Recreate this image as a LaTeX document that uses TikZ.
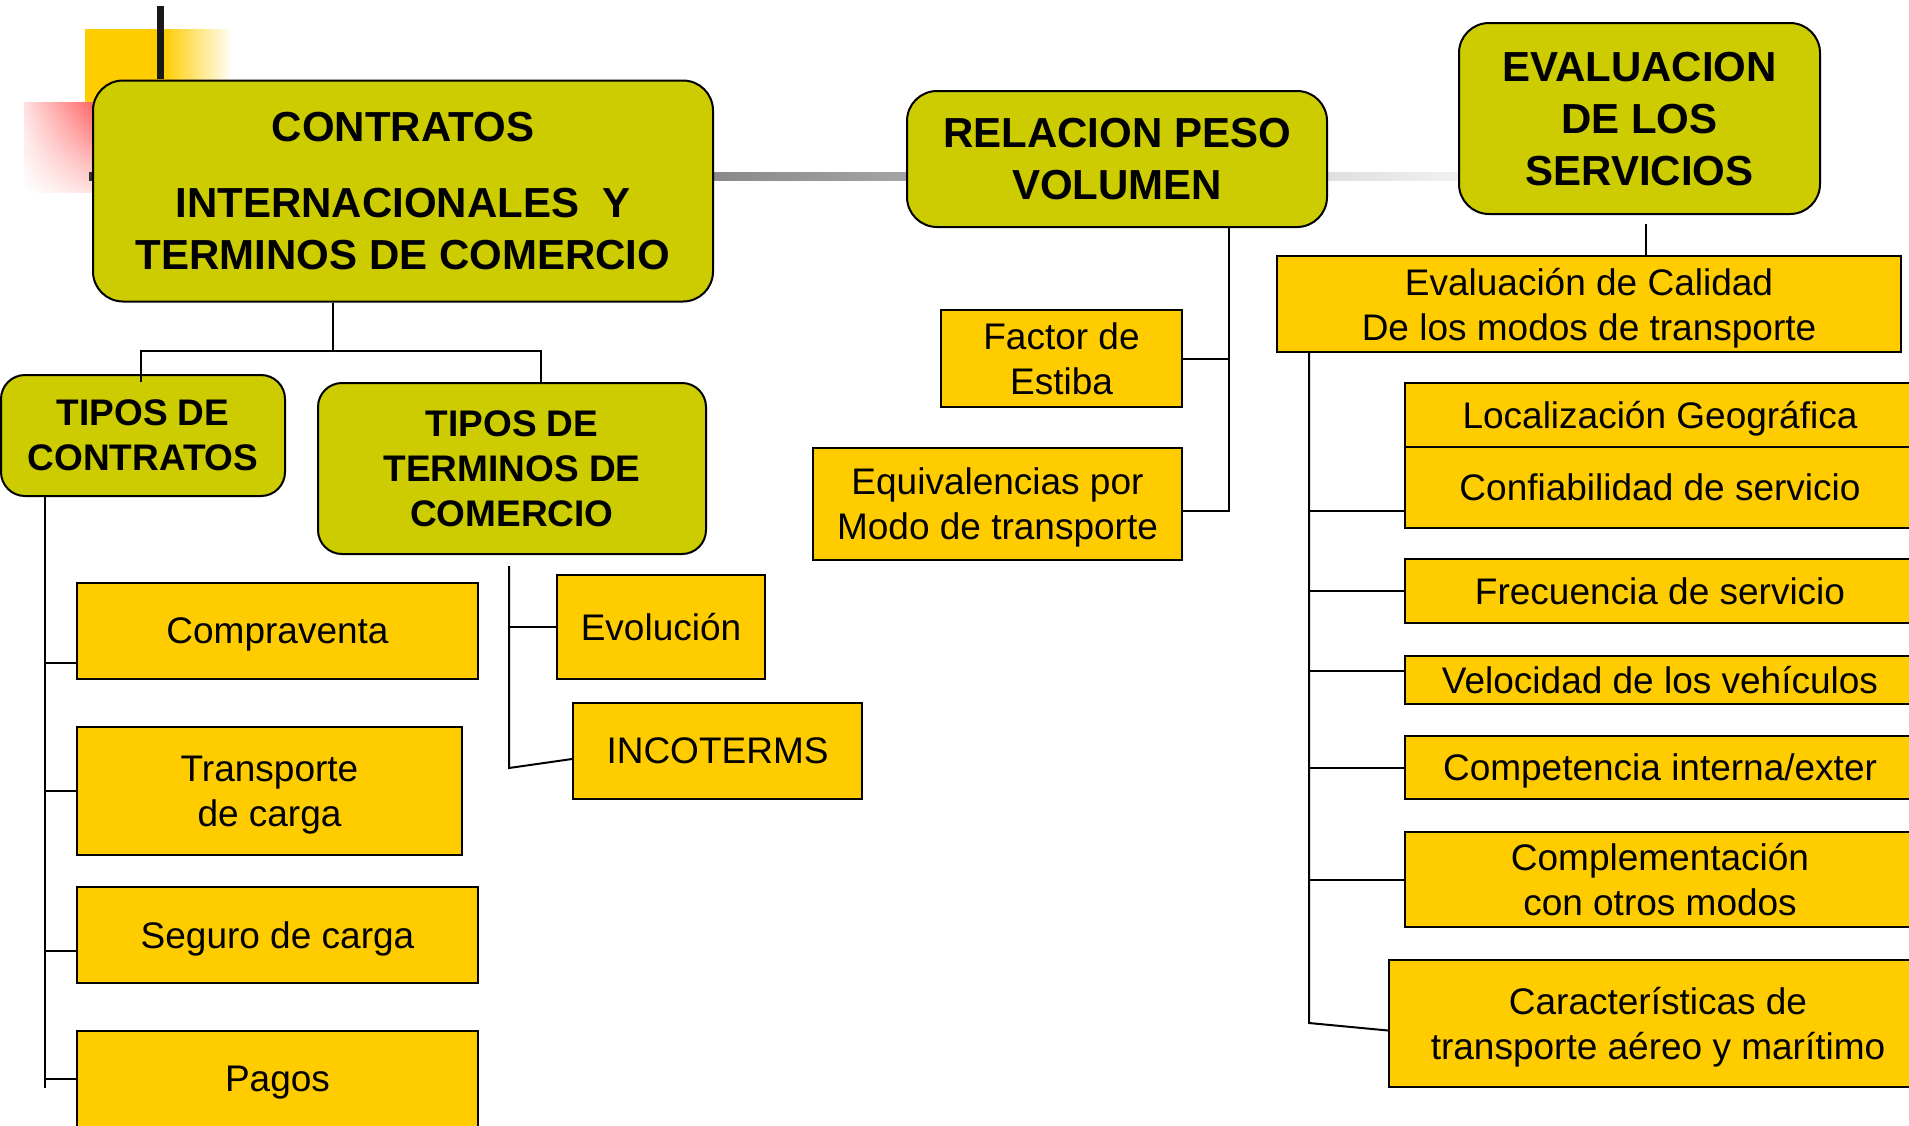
\documentclass[tikz,border=0pt]{standalone}
\usepackage{fontspec}
\setmainfont{Liberation Sans}
\usetikzlibrary{shadings}
\definecolor{myolive}{HTML}{CCCC00}
\definecolor{myyellow}{HTML}{FFCC00}
\newcommand{\titlefont}{\fontsize{42}{52}\selectfont\bfseries}
\newcommand{\subfont}{\fontsize{37}{45}\selectfont\bfseries}
\newcommand{\itemfont}{\fontsize{37}{45}\selectfont}

\begin{document}
\begin{tikzpicture}[x=1pt,y=-1pt]
\tikzset{titlebox/.style={draw=black, line width=2pt, fill=myolive, rounded corners=30pt, align=center, inner sep=0pt, text depth=0pt, font=\titlefont}}
\tikzset{subbox/.style={titlebox, rounded corners=24pt, font=\subfont}}
\tikzset{itembox/.style={draw=black, line width=2pt, fill=myyellow, align=center, inner sep=0pt, text depth=0pt, font=\itemfont}}
\tikzset{link/.style={draw=black, line width=2pt}}
\useasboundingbox (0,0) rectangle (1909,1125);
\fill[myyellow] (85,29) rectangle (163,175);
\shade[left color=myyellow, right color=white] (163,29) rectangle (233,175);
\shade[upper right=red!75, upper left=red!12, lower right=red!15, lower left=white] (24,102) rectangle (114,192);
\fill[black!90] (157,6) rectangle (164,79);
\shade[left color=black!80, right color=white] (89,172) rectangle (1560,180);
\node[titlebox, minimum width=620pt, minimum height=221pt] (contratos) at (403,191) {CONTRATOS\\[24pt] INTERNACIONALES~ Y\\ TERMINOS DE COMERCIO};
\node[titlebox, minimum width=420pt, minimum height=136pt] (relacion) at (1117,159) {RELACION PESO\\ VOLUMEN};
\node[titlebox, minimum width=361pt, minimum height=191pt] (evaluacion) at (1639.5,118.5) {EVALUACION\\ DE LOS\\ SERVICIOS};
\node[subbox, minimum width=284pt, minimum height=121pt] (tiposcon) at (143,435.5) {TIPOS DE\\ CONTRATOS};
\node[subbox, minimum width=388pt, minimum height=171pt] (tiposter) at (512,468.5) {TIPOS DE\\ TERMINOS DE\\ COMERCIO};
\node[itembox, minimum width=401pt, minimum height=96pt] (compra) at (277.5,631) {Compraventa};
\node[itembox, minimum width=385pt, minimum height=128pt] (transp) at (269.5,791) {Transporte\\ de carga};
\node[itembox, minimum width=401pt, minimum height=96pt] (seguro) at (277.5,935) {Seguro de carga};
\node[itembox, minimum width=401pt, minimum height=96pt] (pagos) at (277.5,1079) {Pagos};
\node[itembox, minimum width=208pt, minimum height=104pt] (evol) at (661,627) {Evolución};
\node[itembox, minimum width=289pt, minimum height=96pt] (incot) at (717.5,751) {INCOTERMS};
\node[itembox, minimum width=241pt, minimum height=97pt] (factor) at (1061.5,358.5) {Factor de\\ Estiba};
\node[itembox, minimum width=369pt, minimum height=112pt] (equiv) at (997.5,504) {Equivalencias por\\ Modo de transporte};
\node[itembox, minimum width=624pt, minimum height=96pt] (calidad) at (1589,304) {Evaluación de Calidad\\ De los modos de transporte};
\node[itembox, minimum width=510pt, minimum height=64pt] (local) at (1660,415) {Localización Geográfica};
\node[itembox, minimum width=510pt, minimum height=81pt] (confia) at (1660,487.5) {Confiabilidad de servicio};
\node[itembox, minimum width=510pt, minimum height=64pt] (frec) at (1660,591) {Frecuencia de servicio};
\node[itembox, minimum width=510pt, minimum height=48pt] (veloc) at (1660,680) {Velocidad de los vehículos};
\node[itembox, minimum width=510pt, minimum height=63pt] (compet) at (1660,767.5) {Competencia interna/exter};
\node[itembox, minimum width=510pt, minimum height=95pt] (comple) at (1660,879.5) {Complementación\\ con otros modos};
\node[itembox, minimum width=538pt, minimum height=127pt] (caract) at (1658,1023.5) {Características de\\ transporte aéreo y marítimo};
\coordinate (jC) at (333,351);
\coordinate (jA) at (141,351);
\coordinate (jB) at (541,351);
\coordinate (trunkL) at (45,1088);
\coordinate (topT) at (509,566);
\coordinate (trunkT) at (509,768);
\coordinate (trunkR) at (1229,511);
\coordinate (trunkE) at (1309,1023);
\draw[link] (contratos.south -| jC) -- (jC);
\draw[link] ([yshift=-8pt]jA |- tiposcon.north) -- (jA) -- (jB) -- (jB |- tiposter.north);
\draw[link] (tiposcon.south -| trunkL) -- (trunkL);
\draw[link] ([yshift=-32pt]compra.west) -- ++(-32,0);
\draw[link] (transp.west) -- ++(-32,0);
\draw[link] ([yshift=-16pt]seguro.west) -- ++(-32,0);
\draw[link] (pagos.west) -- ++(-32,0);
\draw[link] (topT) -- (trunkT) -- ([yshift=-8pt]incot.west);
\draw[link] (evol.west) -- (evol.west -| trunkT);
\draw[link] (relacion.south -| trunkR) -- (trunkR) -- ([yshift=-7pt]equiv.east);
\draw[link] (factor.east) -- (factor.east -| trunkR);
\draw[link] ([xshift=6pt,yshift=-9pt]evaluacion.south) -- ([xshift=6pt]evaluacion.south |- calidad.north);
\draw[link] (calidad.south -| trunkE) -- (trunkE) -- ([yshift=-7pt]caract.west);
\draw[link] ([yshift=-23pt]confia.west) -- ++(-96,0);
\draw[link] (frec.west) -- (frec.west -| trunkE);
\draw[link] ([yshift=9pt]veloc.west) -- ++(-96,0);
\draw[link] (compet.west) -- (compet.west -| trunkE);
\draw[link] (comple.west) -- (comple.west -| trunkE);
\end{tikzpicture}
\end{document}
